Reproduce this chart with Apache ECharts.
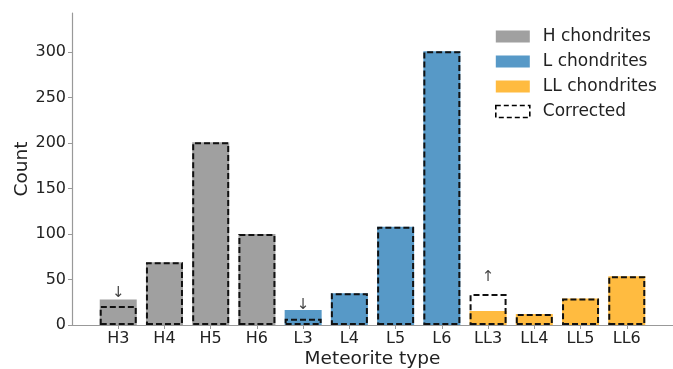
<!DOCTYPE html>
<html>
<head>
<meta charset="utf-8">
<script src="https://cdn.jsdelivr.net/npm/echarts@6/dist/echarts.min.js"></script>
<style>html,body{margin:0;padding:0;background:#fff}#c{width:673px;height:369px}</style>
</head>
<body>
<div id="c"></div>
<script>
const categories = ['H3','H4','H5','H6','L3','L4','L5','L6','LL3','LL4','LL5','LL6'];
const hValues = [28, 69, 201, 100];
const lValues = [16.5, 35, 108, 301];
const llValues = [15.5, 12, 29, 53.5];
const correctedValues = [21, 69, 201, 100, 7, 35, 108, 301, 34, 12, 29, 53.5];
const arrowIdx = [0, 4, 8];
const arrowText = ['↓', '↓', '↑'];
const arrowBase = [29, 15.5, 47];
const yTicks = [0, 50, 100, 150, 200, 250, 300];

const xIdx = categories.map((_, i) => i);
const font = 'DejaVu Sans';
const chart = echarts.init(document.getElementById('c'), null, {renderer: 'canvas'});
const BW = 37;
function barData(vals, offset) { return vals.map((v, i) => [offset + i, v]); }

chart.setOption({
  animation: false,
  textStyle: {fontFamily: font},
  grid: {left: 72, right: 0, top: 13, bottom: 44, containLabel: false, outerBoundsMode: 'none'},
  legend: {
    orient: 'vertical', left: 495, top: 28, padding: 0, itemWidth: 34, itemHeight: 12, itemGap: 8,
    textStyle: {fontFamily: font, fontSize: 17, color: '#222', padding: [0, 0, 0, 8]},
    data: [
      {name: 'H chondrites', icon: 'rect'},
      {name: 'L chondrites', icon: 'rect'},
      {name: 'LL chondrites', icon: 'rect'},
      {name: 'Corrected', icon: 'rect', itemStyle: {color: 'rgba(0,0,0,0)', borderColor: '#000', borderWidth: 1.6, borderType: [5, 3]}}
    ]
  },
  xAxis: {
    type: 'value', min: -1, max: 12,
    name: 'Meteorite type', nameLocation: 'middle', nameGap: 25, nameMoveOverlap: false,
    nameTextStyle: {fontFamily: font, fontSize: 18.5, color: '#222'},
    splitLine: {show: false},
    axisLine: {onZero: false, lineStyle: {color: '#999', width: 1.2}},
    axisTick: {customValues: xIdx, length: 4, lineStyle: {color: '#999'}},
    axisLabel: {customValues: xIdx, formatter: v => categories[Math.round(v)] || '', fontFamily: font, fontSize: 16, color: '#222', margin: 6}
  },
  yAxis: {
    type: 'value', min: 0, max: 343,
    name: 'Count', nameLocation: 'middle', nameGap: 40, nameMoveOverlap: false,
    nameTextStyle: {fontFamily: font, fontSize: 18.5, color: '#222'},
    splitLine: {show: false},
    axisLine: {show: true, onZero: false, lineStyle: {color: '#999', width: 1.2}},
    axisTick: {show: true, customValues: yTicks, length: 4, lineStyle: {color: '#999'}},
    axisLabel: {customValues: yTicks, fontFamily: font, fontSize: 16, color: '#222', margin: 6}
  },
  series: [
    {name: 'H chondrites', type: 'bar', barWidth: BW, barGap: '-100%', data: barData(hValues, 0), itemStyle: {color: '#a0a0a0'}},
    {name: 'L chondrites', type: 'bar', barWidth: BW, barGap: '-100%', data: barData(lValues, 4), itemStyle: {color: '#5799c7'}},
    {name: 'LL chondrites', type: 'bar', barWidth: BW, barGap: '-100%', data: barData(llValues, 8), itemStyle: {color: '#ffbb40'}},
    {name: 'Corrected', type: 'bar', barWidth: BW, barGap: '-100%', data: barData(correctedValues, 0), z: 5,
      itemStyle: {color: 'rgba(0,0,0,0)', borderColor: '#111', borderWidth: 2, borderType: [6, 3]}},
    {name: 'arrows', type: 'scatter', symbolSize: 0, z: 6, silent: true,
      data: arrowIdx.map((x, k) => ({value: [x, arrowBase[k]], label: {formatter: arrowText[k]}})),
      label: {show: true, position: 'top', distance: -2, fontFamily: font, fontSize: 15, color: '#111'}}
  ]
});
</script>
</body>
</html>
